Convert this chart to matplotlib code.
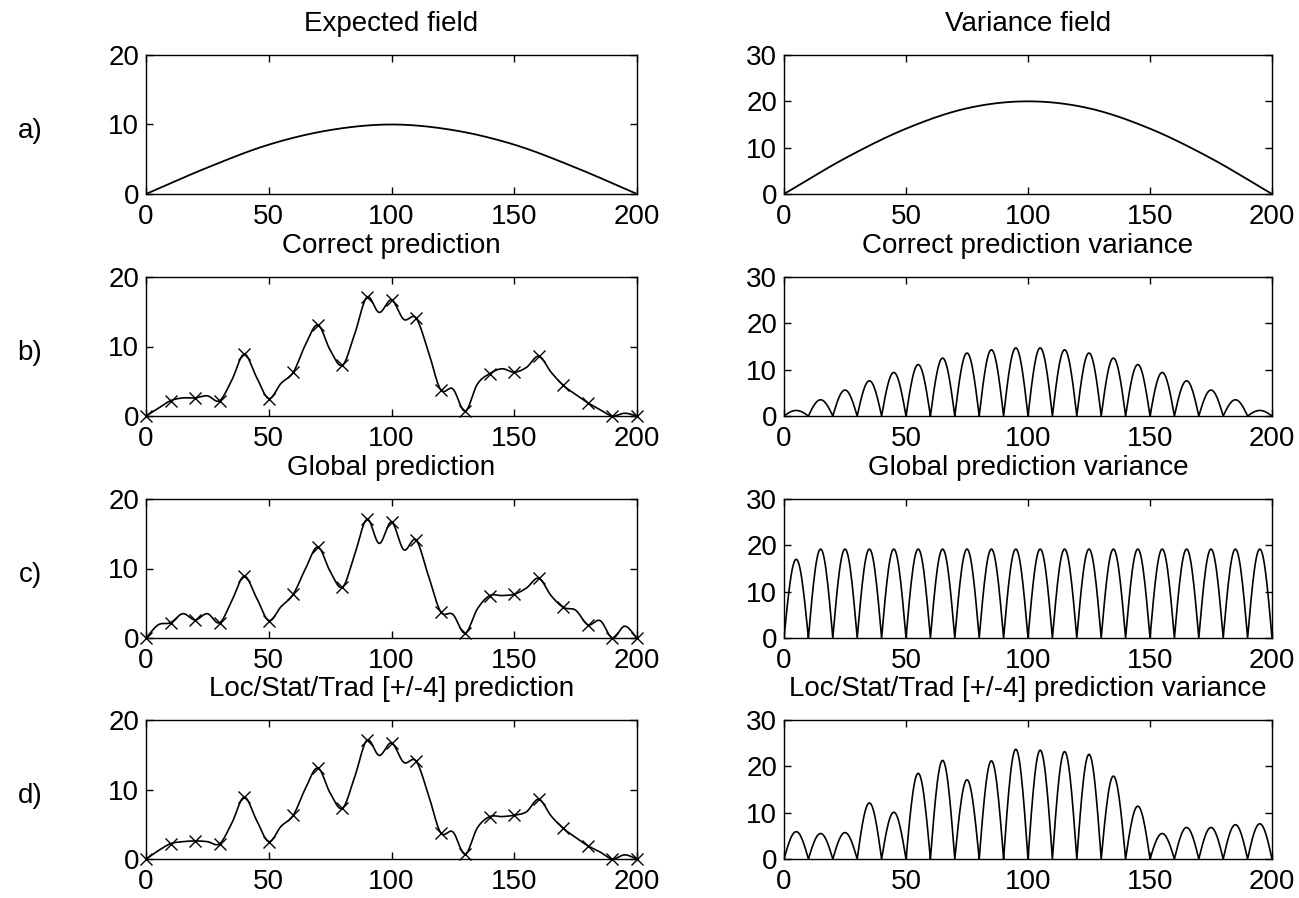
import matplotlib
matplotlib.use("Agg")
import matplotlib.pyplot as plt
import numpy as np

plt.rcParams['font.family'] = ['Liberation Sans', 'DejaVu Sans']

# observation locations and values (x markers)
obs_x = np.arange(0, 201, 10)
obs_y = [0, 2.2, 2.6, 2.2, 8.9, 2.5, 6.3, 13.1, 7.3, 17.1, 16.7, 14.1,
         3.8, 0.7, 6.1, 6.3, 8.6, 4.4, 1.9, 0, 0]

# curve values read halfway between observations (x = 5, 15, ..., 195)
mid_x = np.arange(5, 200, 10)
mid_correct = [1.1, 2.6, 2.9, 5.2, 5.6, 4.7, 10.3, 9.5, 11.8, 14.9, 13.9,
               9.3, 3.9, 4.6, 6.8, 7.0, 6.3, 3.1, 0.9, 0.4]
mid_global = [1.9, 3.5, 3.5, 5.4, 5.8, 4.5, 10.0, 9.6, 12.0, 13.6, 12.7,
              9.0, 3.4, 4.2, 6.1, 7.2, 6.1, 4.0, 2.5, 1.7]
mid_local = [1.2, 2.5, 2.5, 5.2, 5.6, 4.7, 10.2, 9.5, 11.8, 14.9, 13.9,
             9.3, 3.9, 4.5, 6.1, 6.8, 6.2, 3.1, 1.0, 0.6]

# expected field and variance field, read at x = 0, 25, ..., 200
field_x = np.arange(0, 201, 25)
expected = [0, 3.8, 7.1, 9.2, 10, 9.2, 7.1, 3.8, 0]
variance = [0, 7.7, 14.1, 18.5, 20, 18.5, 14.1, 7.7, 0]

# peak of each prediction-variance arch between observations
var_correct = [1.2, 3.5, 5.6, 7.6, 9.4, 11.1, 12.5, 13.6, 14.3, 14.7,
               14.7, 14.3, 13.6, 12.5, 11.1, 9.4, 7.6, 5.6, 3.5, 1.2]
var_global = [17.0, 19.2, 19.2, 19.2, 19.2, 19.2, 19.2, 19.2, 19.2, 19.2,
              19.2, 19.2, 19.2, 19.2, 19.2, 19.2, 19.2, 19.2, 19.2, 19.2]
var_local = [5.9, 5.5, 5.7, 12.1, 10.1, 18.5, 21.3, 17.1, 21.2, 23.7,
             23.5, 23.2, 22.6, 17.9, 11.4, 5.5, 6.8, 6.8, 7.4, 7.6]

left_titles = ["Expected field", "Correct prediction", "Global prediction",
               "Loc/Stat/Trad [+/-4] prediction"]
right_titles = ["Variance field", "Correct prediction variance",
                "Global prediction variance",
                "Loc/Stat/Trad [+/-4] prediction variance"]
row_labels = ["a)", "b)", "c)", "d)"]


def smooth(x, y, n=20):
    # cubic hermite curve through the read points
    x = np.asarray(x, float)
    y = np.asarray(y, float)
    m = np.gradient(y, x)
    xs, ys = [], []
    for i in range(len(x) - 1):
        h = x[i + 1] - x[i]
        t = np.linspace(0, 1, n, endpoint=False)
        h00 = 2 * t**3 - 3 * t**2 + 1
        h10 = t**3 - 2 * t**2 + t
        h01 = -2 * t**3 + 3 * t**2
        h11 = t**3 - t**2
        xs.append(x[i] + t * h)
        ys.append(h00 * y[i] + h10 * h * m[i] + h01 * y[i + 1] + h11 * h * m[i + 1])
    xs.append([x[-1]])
    ys.append([y[-1]])
    return np.concatenate(xs), np.concatenate(ys)


def arches(peaks):
    xs, ys = [], []
    t = np.linspace(0, 1, 30)
    for i, p in enumerate(peaks):
        xs.append(obs_x[i] + t * 10)
        ys.append(p * np.sin(np.pi * t))
    return np.concatenate(xs), np.concatenate(ys)


def style(ax, ymax):
    ax.set_xlim(0, 200)
    ax.set_ylim(0, ymax)
    ax.set_xticks([0, 50, 100, 150, 200])
    ax.set_yticks(np.arange(0, ymax + 1, 10))
    ax.tick_params(direction='in', length=5, width=1, top=True, right=True,
                   labelsize=20)
    ax.tick_params(axis='x', pad=7)
    ax.tick_params(axis='y', pad=5)
    for s in ax.spines.values():
        s.set_linewidth(1)


fig = plt.figure(figsize=(12.99, 8.98), dpi=100)
W, H = 1299, 898
tops = [55, 277, 499, 720]
ax_h = 139
lefts = [(146, 491), (784, 488)]

mids = [None, mid_correct, mid_global, mid_local]
vars_ = [None, var_correct, var_global, var_local]

for r in range(4):
    y0 = 1 - (tops[r] + ax_h) / H
    axl = fig.add_axes([lefts[0][0] / W, y0, lefts[0][1] / W, ax_h / H])
    axr = fig.add_axes([lefts[1][0] / W, y0, lefts[1][1] / W, ax_h / H])

    if r == 0:
        cx, cy = smooth(field_x, expected, 40)
        axl.plot(cx, cy, color='black', lw=1.3)
        vx, vy = smooth(field_x, variance, 40)
        axr.plot(vx, vy, color='black', lw=1.3)
    else:
        kx = np.empty(41)
        ky = np.empty(41)
        kx[0::2] = obs_x
        kx[1::2] = mid_x
        ky[0::2] = obs_y
        ky[1::2] = mids[r]
        cx, cy = smooth(kx, ky, 12)
        axl.plot(cx, cy, color='black', lw=1.2)
        axl.plot(obs_x, obs_y, linestyle='none', marker='x', color='black',
                 markersize=9, markeredgewidth=1.0, clip_on=False)
        vx, vy = arches(vars_[r])
        axr.plot(vx, vy, color='black', lw=1.2)

    style(axl, 20)
    style(axr, 30)
    axl.set_title(left_titles[r], fontsize=20, pad=17)
    axr.set_title(right_titles[r], fontsize=20, pad=17)
    fig.text(30 / W, 1 - (tops[r] + 76) / H, row_labels[r], fontsize=20,
             ha='center', va='center')

fig.savefig("out.png", dpi=100, facecolor='white')
